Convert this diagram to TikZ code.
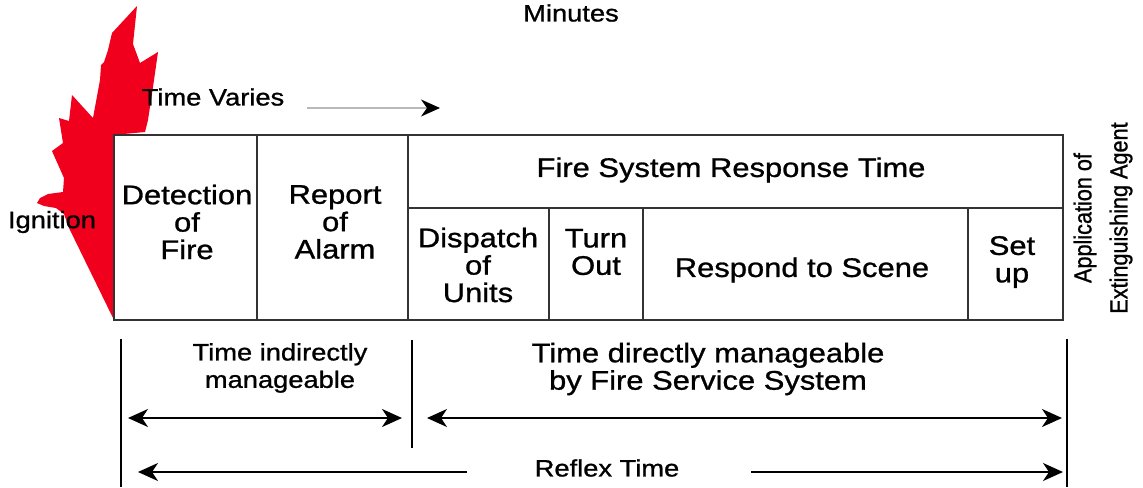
\documentclass[tikz,border=0pt]{standalone}
\usepackage{fontspec}
\setmainfont{Liberation Sans}[FakeStretch=1.15, FakeBold=1]
\newfontfamily\tallfont{Liberation Sans}[FakeStretch=0.88, FakeBold=1]
\usetikzlibrary{arrows.meta}
\definecolor{flame}{RGB}{240,0,28}

\begin{document}
\begin{tikzpicture}[x=0.02cm, y=-0.02cm,
    big/.style={font=\fontsize{15.3}{15.6}\selectfont, align=center},
    small/.style={font=\fontsize{13.5}{15.6}\selectfont, align=center},
    frame/.style={line width=1.4pt, black!80},
    tickline/.style={line width=1.3pt, black},
    >={Stealth[length=4mm, width=3.6mm, inset=1.2mm]}]
    \tikzstyle{every node}+=[inner sep=0pt]
    \useasboundingbox (0,0) rectangle (1143,487);
    \fill [flame] (113,318) -- (113,135) -- (145,132) -- (148,120) -- (153,87) -- (158,52) -- (140,63) -- (133,44) -- (137,6) -- (112,33) -- (108,50) -- (104,62) -- (101,65) -- (100,80) -- (93,118) -- (72,95) -- (69,121) -- (59,118) -- (63,143) -- (52,151) -- (64,178) -- (63,192) -- (48,194) -- (40,198) -- (37,203) -- (44,206) -- (56,208) -- (64,214) -- (69,228) -- cycle;
    \draw [frame] (114,135) rectangle (1063,320);
    \draw [frame] (257,135) -- (257,320);
    \draw [frame] (408,135) -- (408,320);
    \draw [frame] (408,208) -- (1063,208);
    \draw [frame] (549,208) -- (549,320);
    \draw [frame] (643,208) -- (643,320);
    \draw [frame] (968,208) -- (968,320);
    \node [small] (minutes) at (571,13) {Minutes};
    \node [small] (varies) at (213,97) {Time Varies};
    \node [small] (ignition) at (52,222) {Ignition};
    \node [big] (detect) at (187,222) {Detection\\of\\Fire};
    \node [big] (report) at (335,222) {Report\\of\\Alarm};
    \node [big] (response) at (731,170) {Fire System Response Time};
    \node [big] (dispatch) at (478,265) {Dispatch\\of\\Units};
    \node [big] (turnout) at (596,252) {Turn\\Out};
    \node [big] (respond) at (802,270) {Respond to Scene};
    \node [big] (setup) at (1012,262) {Set\\up};
    \node [font=\tallfont\fontsize{14}{20.5}\selectfont, align=center, rotate=90] (agent) at (1103,218) {Application of\\Extinguishing Agent};
    \node [small] (indirect) at (280,368) {Time indirectly\\manageable};
    \node [big] (direct) at (708,369) {Time directly manageable\\by Fire Service System};
    \node [small] (reflex) at (607,468) {Reflex Time};
    \coordinate (va) at (307,108);
    \coordinate (vb) at (440,108);
    \draw [gray!55, line width=0.6pt, -{Stealth[length=3.8mm, width=3.4mm, inset=1.2mm, color=black]}] (va) -- (vb);
    \coordinate (m0a) at (121,339);
    \coordinate (m0b) at (121,487);
    \coordinate (m1a) at (412,340);
    \coordinate (m1b) at (412,448);
    \coordinate (m2a) at (1067,339);
    \coordinate (m2b) at (1067,487);
    \draw [tickline] (m0a) -- (m0b);
    \draw [tickline] (m1a) -- (m1b);
    \draw [tickline] (m2a) -- (m2b);
    \coordinate (ia) at (128,418);
    \coordinate (ib) at (402,418);
    \coordinate (da) at (427,418);
    \coordinate (db) at (1062,418);
    \draw [line width=1.1pt, <->] (ia) -- (ib);
    \draw [line width=1.1pt, <->] (da) -- (db);
    \coordinate (ra) at (467,472);
    \coordinate (rb) at (138,472);
    \coordinate (rc) at (751,472);
    \coordinate (rd) at (1063,472);
    \draw [line width=1.1pt, ->] (ra) -- (rb);
    \draw [line width=1.1pt, ->] (rc) -- (rd);
\end{tikzpicture}
\end{document}
